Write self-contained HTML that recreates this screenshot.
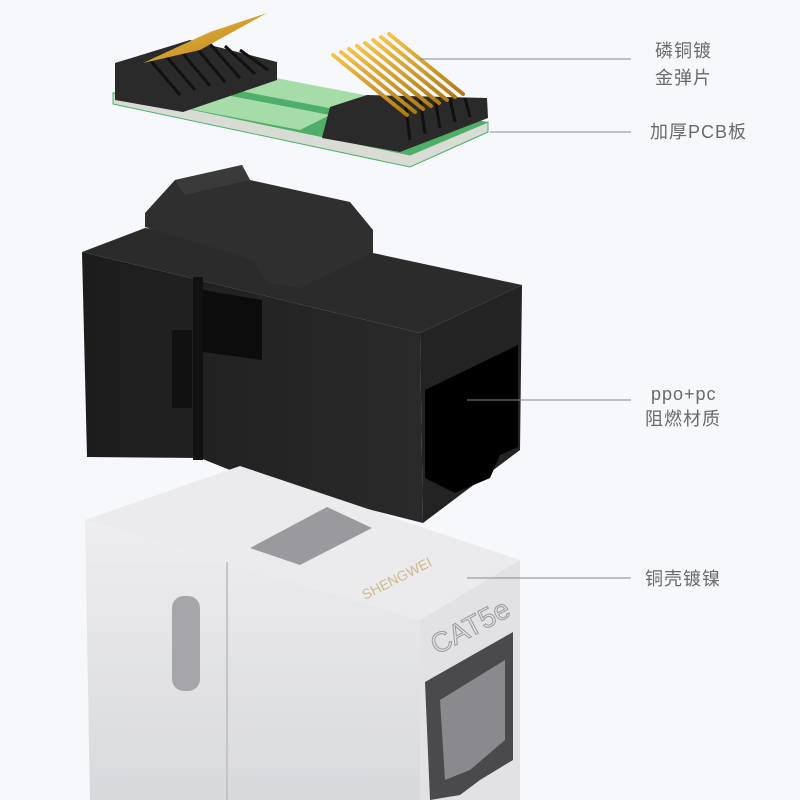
<!DOCTYPE html>
<html><head><meta charset="utf-8"><style>
html,body{margin:0;padding:0;background:#f7f8fb;}
svg{display:block}
.t{font-family:"Liberation Sans","Noto Sans CJK SC",sans-serif;font-size:18px;fill:#6a6a6a;letter-spacing:1px}
</style></head><body>
<svg width="800" height="800" viewBox="0 0 800 800" xmlns="http://www.w3.org/2000/svg">
<defs>
<linearGradient id="blk" x1="0" y1="0" x2="1" y2="0"><stop offset="0" stop-color="#1c1c1c"/><stop offset="1" stop-color="#2a2a2a"/></linearGradient>
<linearGradient id="sil" x1="0" y1="0" x2="0" y2="1"><stop offset="0" stop-color="#eeeef0"/><stop offset="1" stop-color="#d8d9dc"/></linearGradient>
<linearGradient id="gold" x1="0" y1="0" x2="1" y2="1"><stop offset="0" stop-color="#f5c44a"/><stop offset="1" stop-color="#b07a14"/></linearGradient>
</defs>
<rect width="800" height="800" fill="#f7f8fb"/>
<!-- PCB -->
<polygon points="113,93 113,104 410,167 488,132 488,122 410,155" fill="#d9dcd4" stroke="#4caf6a" stroke-width="1"/>
<polygon points="113,93 180,66 488,122 410,155" fill="#4fae68"/>
<polygon points="200,90 330,115 300,130 185,108" fill="#a5dca8"/>
<polygon points="260,75 380,98 350,112 235,90" fill="#a5dca8"/>
<!-- left block -->
<polygon points="115,63 190,40 277,62 277,80 183,112 115,100" fill="#2a2a2a"/>
<g stroke="#111" stroke-width="3">
<line x1="150" y1="60" x2="180" y2="95"/><line x1="165" y1="55" x2="195" y2="90"/><line x1="180" y1="50" x2="210" y2="86"/><line x1="195" y1="46" x2="225" y2="82"/><line x1="210" y1="44" x2="240" y2="78"/><line x1="225" y1="46" x2="255" y2="74"/><line x1="240" y1="50" x2="268" y2="70"/>
</g>
<polygon points="143,63 210,32 267,13 200,50" fill="url(#gold)"/>
<!-- right block -->
<polygon points="330,107 367,95 487,98 488,118 400,152 322,138" fill="#2a2a2a"/>
<g stroke="#111" stroke-width="3">
<line x1="405" y1="100" x2="410" y2="140"/><line x1="420" y1="98" x2="425" y2="134"/><line x1="435" y1="98" x2="440" y2="128"/><line x1="450" y1="98" x2="455" y2="122"/><line x1="465" y1="98" x2="470" y2="117"/>
</g>
<g stroke="url(#gold)" stroke-width="4" stroke-linecap="round">
<line x1="333" y1="55" x2="407" y2="115"/><line x1="341" y1="52" x2="415" y2="112"/><line x1="349" y1="49" x2="423" y2="109"/><line x1="357" y1="46" x2="431" y2="106"/><line x1="365" y1="43" x2="439" y2="103"/><line x1="373" y1="40" x2="447" y2="100"/><line x1="381" y1="37" x2="455" y2="97"/><line x1="389" y1="34" x2="463" y2="94"/>
</g>
<!-- black block -->
<polygon points="82,252 145,228 373,253 522,285 420,333" fill="#2b2b2b"/>
<polygon points="82,252 420,333 423,523 260,482 200,458 87,457" fill="url(#blk)"/>
<polygon points="420,333 522,285 520,450 423,523" fill="#232323"/>
<polygon points="425,390 518,345 518,447 500,455 490,478 455,493 425,478" fill="#000"/>
<polygon points="145,213 175,180 242,165 250,180 350,202 373,230 373,253 300,288 267,283 253,260 145,227" fill="#2f2f2f"/>
<polygon points="175,180 242,165 250,180 185,195" fill="#3a3a3a"/>
<rect x="172" y="330" width="20" height="78" fill="#111"/>
<rect x="193" y="277" width="10" height="183" fill="#111"/>
<polygon points="203,290 262,300 262,360 203,352" fill="#0c0c0c"/>
<!-- silver block -->
<polygon points="85,520 240,466 520,560 420,620" fill="#ebebed"/>
<polygon points="85,520 420,620 420,800 90,800" fill="url(#sil)"/>
<polygon points="420,620 520,560 520,800 420,800" fill="#e2e2e5"/>
<polygon points="250,548 327,507 372,528 300,565" fill="#9a9a9e"/>
<line x1="227" y1="562" x2="227" y2="800" stroke="#c4c4c8" stroke-width="2"/>
<rect x="172" y="596" width="28" height="95" rx="12" fill="#a6a6aa"/>
<polygon points="425,682 513,632 513,760 480,780 460,795 430,800" fill="#4a4a4c"/>
<polygon points="440,700 505,660 505,740 470,770 445,780" fill="#8a8a8e"/>
<text x="0" y="0" transform="translate(365,600) rotate(-27)" font-family="Liberation Sans,sans-serif" font-size="14" fill="#d0b98a">SHENGWEI</text>
<text x="0" y="0" transform="translate(437,655) rotate(-28)" font-family="Liberation Sans,sans-serif" font-size="28" fill="none" stroke="#9a9a9e" stroke-width="1">CAT5e</text>
<!-- callouts -->
<g stroke="#888" stroke-width="1">
<line x1="420" y1="59" x2="631" y2="59"/>
<line x1="490" y1="132" x2="631" y2="132"/>
<line x1="467" y1="400" x2="631" y2="400"/>
<line x1="467" y1="578" x2="631" y2="578"/>
</g>
<text class="t" x="655" y="57">磷铜镀</text>
<text class="t" x="655" y="84">金弹片</text>
<text class="t" x="650" y="138">加厚PCB板</text>
<text class="t" x="651" y="400">ppo+pc</text>
<text class="t" x="645" y="425">阻燃材质</text>
<text class="t" x="645" y="585">铜壳镀镍</text>
</svg>
</body></html>
